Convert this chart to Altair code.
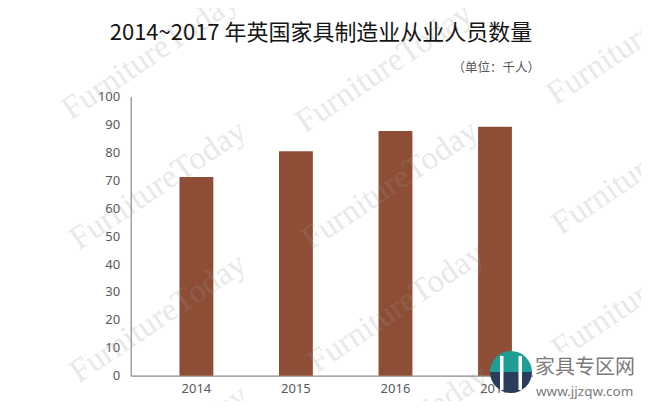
import altair as alt
import pandas as pd

# ---- data ----
years = ["2014", "2015", "2016", "2017"]
workers = [71.2, 80.4, 87.6, 89.2]  # thousand people
y_ticks = [0, 10, 20, 30, 40, 50, 60, 70, 80, 90, 100]

title_text = "2014~2017 年英国家具制造业从业人员数量"
unit_text = "（单位：千人）"
watermark_text = "FurnitureToday"
logo_cn = "家具专区网"
logo_url = "www.jjzqw.com"

# ---- layout (pixels relative to plot origin) ----
OX, OY = 130.7, 96.5  # plot origin inside the page
W, H = 430, 279.2

df = pd.DataFrame({"year": years, "value": workers})

bars = alt.Chart(df).mark_bar(color="#8d4e35").encode(
    x=alt.X("year:N", sort=years,
            scale=alt.Scale(paddingInner=0.66, paddingOuter=0.49),
            axis=alt.Axis(title=None, labelAngle=0, ticks=False, labelPadding=7,
                          labelFontSize=13, labelColor="#595959", labelFont="Noto Sans",
                          domainColor="#8a8a8a", domainWidth=1.2)),
    y=alt.Y("value:Q", scale=alt.Scale(domain=[0, 100], nice=False),
            axis=alt.Axis(title=None, values=y_ticks, ticks=False, grid=False,
                          labelPadding=11, labelFontSize=13, labelColor="#595959",
                          labelFont="Noto Sans", domainColor="#8a8a8a", domainWidth=1.2)),
)

# watermark grid (page positions of centres)
wm_pos = [(150, 55), (158, 185), (158, 318), (160, 450),
          (384, 68), (390, 185), (396, 308), (400, 430),
          (635, 40), (640, 170), (640, 295)]
wm_df = pd.DataFrame({"px": [p[0] - OX for p in wm_pos],
                      "py": [p[1] - OY for p in wm_pos],
                      "t": [watermark_text] * len(wm_pos)})
watermarks = alt.Chart(wm_df).mark_text(
    font="Liberation Serif", fontSize=33, angle=326, color="#9a9a9a", opacity=0.22,
    align="center", baseline="middle"
).encode(x=alt.X("px:Q", scale=None), y=alt.Y("py:Q", scale=None), text="t:N")

title = alt.Chart(pd.DataFrame({"t": [title_text]})).mark_text(
    font="Noto Sans CJK SC", fontSize=22, color="#151515", align="center", baseline="middle"
).encode(x=alt.value(321 - OX), y=alt.value(33 - OY), text="t:N")

unit = alt.Chart(pd.DataFrame({"t": [unit_text]})).mark_text(
    font="Noto Sans CJK SC", fontSize=12.5, color="#555555", align="right", baseline="middle"
).encode(x=alt.value(540 - OX), y=alt.value(68 - OY), text="t:N")

# logo
one = pd.DataFrame({"a": [0]})
logo_bg = alt.Chart(one).mark_rect(color="white").encode(
    x=alt.value(533 - OX), x2=alt.value(645 - OX), y=alt.value(352 - OY), y2=alt.value(404 - OY))
arc_top = alt.Chart(one).mark_arc(radius=21, theta=4.7124, theta2=7.854, color="#1f9e95").encode(
    x=alt.value(511 - OX), y=alt.value(372 - OY))
arc_bot = alt.Chart(one).mark_arc(radius=21, theta=1.5708, theta2=4.7124, color="#2b3d5c").encode(
    x=alt.value(511 - OX), y=alt.value(372 - OY))
stripe1 = alt.Chart(one).mark_rect(color="white").encode(
    x=alt.value(500 - OX), x2=alt.value(503.5 - OX), y=alt.value(356 - OY), y2=alt.value(390 - OY))
stripe2 = alt.Chart(one).mark_rect(color="white").encode(
    x=alt.value(518.5 - OX), x2=alt.value(522 - OX), y=alt.value(356 - OY), y2=alt.value(390 - OY))
logo_t1 = alt.Chart(pd.DataFrame({"t": [logo_cn]})).mark_text(
    font="Noto Sans CJK SC", fontSize=20, color="#7a7a7a", align="left", baseline="middle"
).encode(x=alt.value(535 - OX), y=alt.value(368 - OY), text="t:N")
logo_t2 = alt.Chart(pd.DataFrame({"t": [logo_url]})).mark_text(
    font="Noto Sans", fontSize=13.5, color="#7a7a7a", align="left", baseline="middle"
).encode(x=alt.value(536 - OX), y=alt.value(392 - OY), text="t:N")

chart = alt.layer(
    bars, watermarks, title, unit, logo_bg, arc_top, arc_bot, stripe1, stripe2, logo_t1, logo_t2
).properties(
    width=W, height=H,
    autosize=alt.AutoSizeParams(type="none"),
    padding={"left": OX - 8, "top": OY - 8, "right": 80, "bottom": 25},
    background="white",
).configure_view(stroke=None)

chart.save("out.html", embed_options={"renderer": "svg", "actions": False})
